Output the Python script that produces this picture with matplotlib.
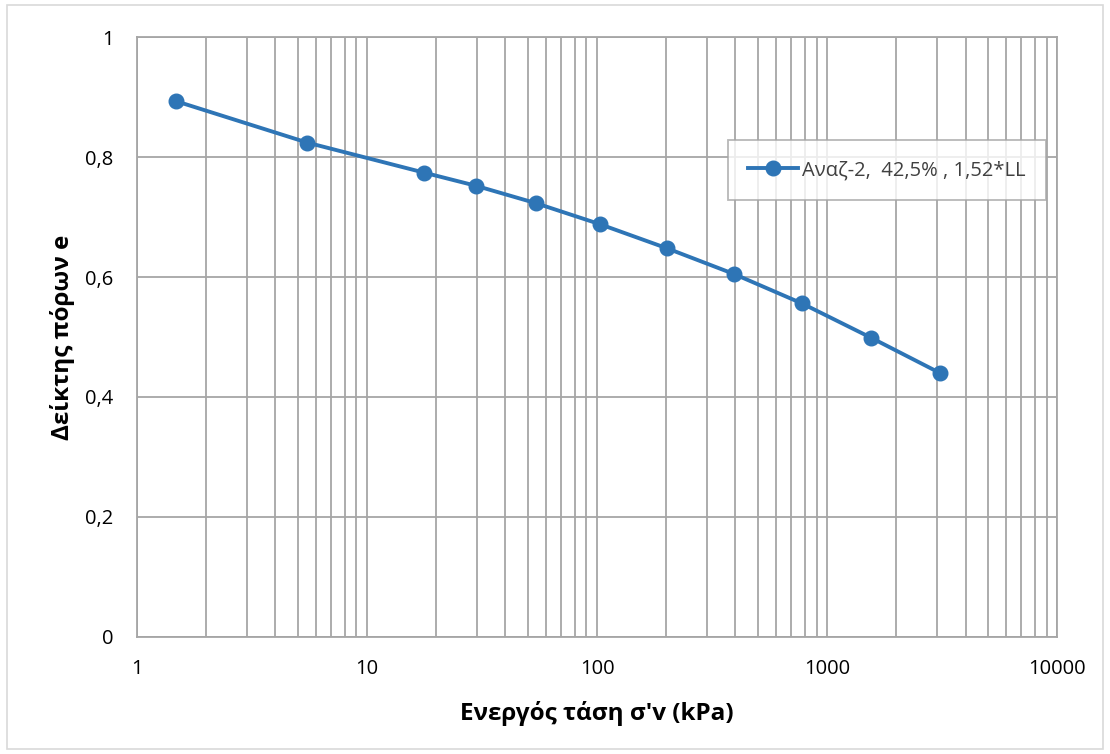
import numpy as np
import matplotlib.pyplot as plt
from matplotlib.ticker import FixedLocator, LogLocator, NullFormatter
from matplotlib.patches import Rectangle

# δεδομένα διαγράμματος (σ'v σε kPa, δείκτης πόρων e)
stress = [1.48, 5.5, 17.7, 29.8, 54.3, 103, 201, 394, 778, 1550, 3096]
void_ratio = [0.893, 0.824, 0.774, 0.752, 0.723, 0.688, 0.648, 0.605, 0.556, 0.499, 0.440]
series_label = "Αναζ-2,  42,5% , 1,52*LL"
y_ticks = [0, 0.2, 0.4, 0.6, 0.8, 1]
y_tick_labels = ["0", "0,2", "0,4", "0,6", "0,8", "1"]
x_ticks = [1, 10, 100, 1000, 10000]
x_tick_labels = ["1", "10", "100", "1000", "10000"]

plt.rcParams['font.family'] = ['Open Sans', 'DejaVu Sans']

fig = plt.figure(figsize=(11.1, 7.54), dpi=100)
ax = fig.add_axes([0.1234, 0.1552, 0.8289, 0.7957])

grid_col = "#a6a6a6"
ax.plot(stress, void_ratio, color="#2e75b6", lw=2.8, marker="o", ms=10.5,
        label=series_label, zorder=3)

ax.set_xscale("log")
ax.set_xlim(1, 10000)
ax.set_ylim(0, 1)
ax.xaxis.set_major_locator(FixedLocator(x_ticks))
ax.set_xticklabels(x_tick_labels)
ax.xaxis.set_minor_locator(LogLocator(base=10, subs=np.arange(2, 10)))
ax.xaxis.set_minor_formatter(NullFormatter())
ax.set_yticks(y_ticks)
ax.set_yticklabels(y_tick_labels)

ax.grid(True, which="both", axis="x", color=grid_col, lw=1.3)
ax.grid(True, which="major", axis="y", color=grid_col, lw=1.3)
for s in ax.spines.values():
    s.set_color(grid_col)
    s.set_linewidth(1.3)
ax.tick_params(which="both", length=0, labelsize=14.5, labelcolor="#000000")
ax.tick_params(axis="x", pad=16)
ax.tick_params(axis="y", pad=17)

ax.set_xlabel("Ενεργός τάση σ'v (kPa)", fontsize=17.5, fontweight="bold")
ax.set_ylabel("Δείκτης πόρων e", fontsize=17.5, fontweight="bold")
ax.xaxis.set_label_coords(0.5, -0.106)
ax.yaxis.set_label_coords(-0.067, 0.5)

leg = ax.legend(loc="upper left", bbox_to_anchor=(0.642, 0.828), fontsize=14.5,
                frameon=True, fancybox=False, borderpad=1.0, handlelength=2.5,
                handletextpad=0.2, borderaxespad=0)
leg.get_frame().set_edgecolor(grid_col)
leg.get_frame().set_linewidth(1.3)
for t in leg.get_texts():
    t.set_color("#404040")

# περίγραμμα γραφήματος
fig.patches.append(Rectangle((0.006, 0.007), 0.988, 0.986, transform=fig.transFigure,
                             fill=False, edgecolor="#d9d9d9", lw=1.2))

fig.savefig("out.png", dpi=100)
